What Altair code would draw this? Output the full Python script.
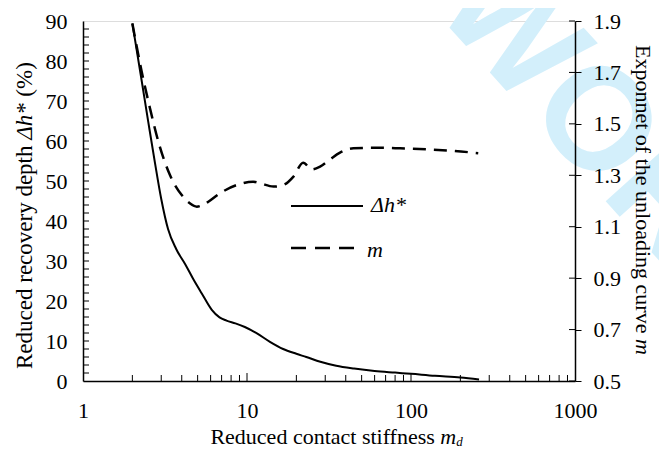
import altair as alt
import pandas as pd

# ---- data ----
md_h = [2.0, 2.25, 2.5, 2.75, 3.0, 3.3, 3.7, 4.2, 4.7, 5.3, 6.1, 6.8, 7.5, 8.5, 9.7,
        11.5, 13.8, 16.6, 20, 23, 28, 35, 45, 60, 80, 100, 140, 200, 260]
dh = [89.4, 76.5, 64.8, 54.4, 45.5, 38.0, 33.0, 29.2, 25.5, 21.9, 17.8, 15.9, 15.1, 14.4, 13.5,
      11.9, 9.8, 8.0, 6.8, 6.0, 4.8, 3.8, 3.1, 2.5, 2.1, 1.8, 1.3, 0.9, 0.4]

md_m = [2.0, 2.28, 2.56, 2.88, 3.39, 4.0, 4.5, 4.94, 5.4, 5.81, 6.84, 8.65, 10.9, 12.0,
        14.5, 16.6, 19.2, 22.0, 24.8, 27.9, 32.1, 36.9, 44.5, 61.8, 85.7, 124.6, 181, 257]
m_vals = [1.89, 1.703, 1.561, 1.431, 1.301, 1.223, 1.19, 1.178, 1.185, 1.197, 1.23, 1.262, 1.275, 1.269,
          1.256, 1.262, 1.295, 1.349, 1.323, 1.334, 1.362, 1.388, 1.405, 1.407, 1.405, 1.401, 1.395, 1.386]

x_labels = [1, 10, 100, 1000]
x_minor = [2, 3, 4, 5, 6, 7, 8, 9, 20, 30, 40, 50, 60, 70, 80, 90, 200, 300, 400, 500, 600, 700, 800, 900]
x_major = [10, 100]
left_labels = [0, 10, 20, 30, 40, 50, 60, 70, 80, 90]
left_minor = list(range(2, 90, 2))
right_labels = [0.5, 0.7, 0.9, 1.1, 1.3, 1.5, 1.7, 1.9]

W, H = 492, 360
FONT = "Liberation Serif"
LAB = 22
TIT = 22

xs = alt.Scale(type="log", domain=[1, 1000])
x_axis = alt.Axis(values=x_labels, format="d", ticks=False, tickSize=0, labelPadding=19,
                  labelFont=FONT, labelFontSize=LAB, labelColor="black", domainColor="black",
                  domainWidth=1.5, grid=False, title=None, zindex=1, labelFlush=False)
x_enc = alt.X("x:Q", scale=xs, axis=x_axis)

yl_scale = alt.Scale(domain=[0, 90], nice=False, zero=False)
yl_axis = alt.Axis(values=left_labels, ticks=False, tickSize=0, labelPadding=16, labelFont=FONT,
                   labelFontSize=LAB, labelColor="black", domainColor="black", domainWidth=1.5,
                   grid=False, title=None, zindex=1)
yl = alt.Y("y:Q", scale=yl_scale, axis=yl_axis)

yr_scale = alt.Scale(domain=[0.5, 1.9], nice=False, zero=False)
yr_axis = alt.Axis(orient="right", values=right_labels, format=".1f", tickSize=6, tickColor="black",
                   tickWidth=1, labelPadding=12, labelFont=FONT, labelFontSize=LAB, labelColor="black",
                   domainColor="black", domainWidth=1.5, grid=False, title=None, zindex=1)
yr = alt.Y("y:Q", scale=yr_scale, axis=yr_axis)

df_h = pd.DataFrame({"x": md_h, "y": dh})
df_m = pd.DataFrame({"x": md_m, "y": m_vals})

# watermark
wm = alt.Chart(pd.DataFrame({"t": ["WORLD"]})).mark_text(
    font="Liberation Sans", fontWeight="bold", fontSize=145, color="#d3effb", angle=48,
    align="left", baseline="middle").encode(x=alt.value(382), y=alt.value(-42), text="t:N")

solid = alt.Chart(df_h).mark_line(color="black", strokeWidth=2, interpolate="monotone").encode(
    x=x_enc, y=yl)

lt = alt.Chart(pd.DataFrame({"y": left_minor})).mark_rule(color="black", strokeWidth=1).encode(
    y=yl, x=alt.value(0), x2=alt.value(6))

bt_minor = alt.Chart(pd.DataFrame({"x": x_minor})).mark_rule(color="black", strokeWidth=1).encode(
    x=x_enc, y=alt.value(H), y2=alt.value(H - 6))
bt_major = alt.Chart(pd.DataFrame({"x": x_major})).mark_rule(color="black", strokeWidth=1).encode(
    x=x_enc, y=alt.value(H), y2=alt.value(H - 8))

# legend
leg_solid = alt.Chart(pd.DataFrame({"a": [0]})).mark_rule(color="black", strokeWidth=2).encode(
    x=alt.value(208), x2=alt.value(280), y=alt.value(185))
leg_dash = alt.Chart(pd.DataFrame({"a": [0]})).mark_rule(color="black", strokeWidth=2.5,
                                                        strokeDash=[15, 9]).encode(
    x=alt.value(208), x2=alt.value(274), y=alt.value(227))
leg_t1 = alt.Chart(pd.DataFrame({"t": ["\u0394h*"]})).mark_text(
    font=FONT, fontSize=LAB, fontStyle="italic", align="left", baseline="alphabetic").encode(
    x=alt.value(288), y=alt.value(191), text="t:N")
leg_t2 = alt.Chart(pd.DataFrame({"t": ["m"]})).mark_text(
    font=FONT, fontSize=LAB, fontStyle="italic", align="left", baseline="alphabetic").encode(
    x=alt.value(284), y=alt.value(236), text="t:N")

# axis titles composed from pieces (mixed italic)
def txt(s, x, y, angle=0, align="left", italic=False, size=TIT, baseline="alphabetic"):
    props = dict(font=FONT, fontSize=size, align=align, baseline=baseline, color="black")
    if angle:
        props["angle"] = angle
    if italic:
        props["fontStyle"] = "italic"
    return alt.Chart(pd.DataFrame({"t": [s]})).mark_text(**props).encode(
        x=alt.value(x), y=alt.value(y), text="t:N")

bx = 127 + 10.22 * TIT
bot1 = txt("Reduced contact stiffness", bx, 423, align="right")
bot2 = txt("m", bx + 5.5, 423, italic=True)
bot3 = txt("d", bx + 5.5 + 16, 425, italic=True, size=13)

LT = 23
lx = -51
ly = 348
l1 = txt("Reduced recovery depth", lx, ly, angle=270, align="left", size=LT)
l2 = txt("\u0394h*", lx, ly - 9.72 * LT - 5.75, angle=270, align="left", italic=True, size=LT)
l3 = txt("(%)", lx, ly - 9.72 * LT - 5.75 - 1.62 * LT - 5.75, angle=270, align="left", size=LT)

rx = 553
ry = 24 + 13.11 * TIT
r1 = txt("Exponnet of the unloading curve", rx, ry, angle=90, align="right")
r2 = txt("m", rx, ry + 5.5, angle=90, align="left", italic=True)

dashed = alt.Chart(df_m).mark_line(color="black", strokeWidth=2.5, strokeDash=[13, 8],
                                   interpolate="monotone").encode(x=x_enc, y=yr)
rt = alt.Chart(pd.DataFrame({"y": right_labels})).mark_rule(color="black", strokeWidth=1).encode(
    y=yr, x=alt.value(W - 6), x2=alt.value(W))

left_group = alt.layer(wm, solid, lt, bt_minor, bt_major, leg_solid, leg_dash, leg_t1, leg_t2,
                       bot1, bot2, bot3, l1, l2, l3, r1, r2)
right_group = alt.layer(dashed, rt)

chart = alt.layer(left_group, right_group).resolve_scale(y="independent").properties(
    width=W, height=H,
    autosize=alt.AutoSizeParams(type="none"),
    padding={"left": 75, "top": 13, "right": 84, "bottom": 68},
).configure_view(stroke="black", strokeWidth=1).configure(background="white")

chart.save("out.html", embed_options={"renderer": "svg", "actions": False})
